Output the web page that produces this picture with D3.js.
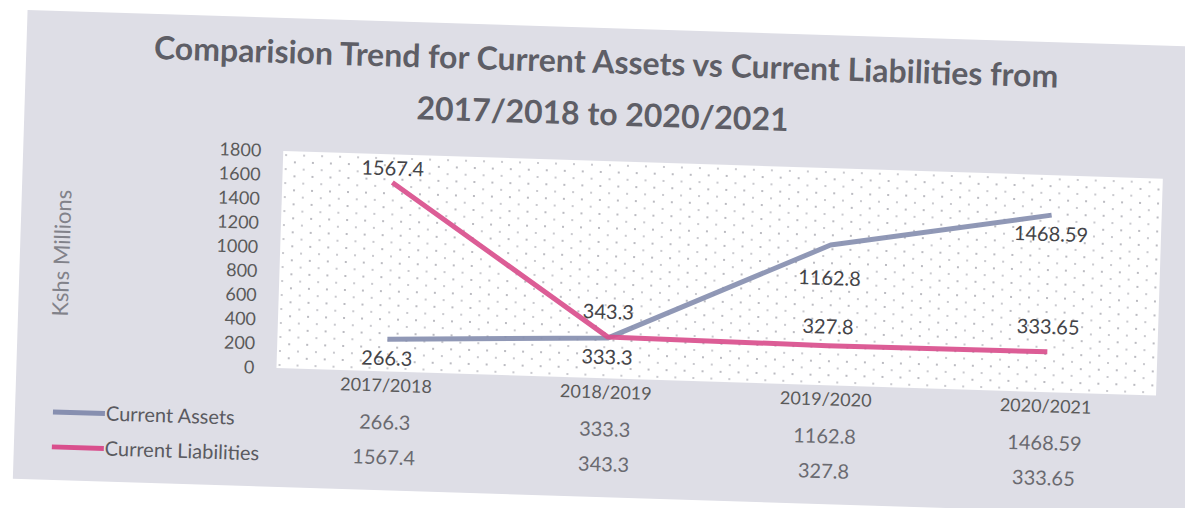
<!DOCTYPE html>
<html>
<head>
<meta charset="utf-8">
<script src="https://cdn.jsdelivr.net/npm/d3@7"></script>
<style>
  html, body { margin: 0; padding: 0; background: #ffffff; }
  svg { display: block; }
</style>
</head>
<body>
<svg id="chart" width="1185" height="508"></svg>
<script>
// ---- data ----
const categories = ["2017/2018", "2018/2019", "2019/2020", "2020/2021"];
const currentAssets = [266.3, 333.3, 1162.8, 1468.59];
const currentLiabilities = [1567.4, 343.3, 327.8, 333.65];
const seriesNames = ["Current Assets", "Current Liabilities"];
const yTicks = [0, 200, 400, 600, 800, 1000, 1200, 1400, 1600, 1800];
const titleLines = [
  "Comparision Trend for Current Assets vs Current Liabilities from",
  "2017/2018 to 2020/2021"
];
const yAxisTitle = "Kshs Millions";

// ---- layout ----
const FONT = "Lato, 'Open Sans', 'DejaVu Sans', sans-serif";
const colors = { assets: "#878fb0", liabilities: "#d94f8d" };
const plot = { left: 280, right: 1160 };
const rows = { category: 392, assets: 429, liabilities: 464 };
// vertical offset of each data label from its point (px)
const assetLabelOffset = [19, 19, 33, 19];
const liabilityLabelOffset = [-25, -25, -19, -25];

const svg = d3.select("#chart");

const defs = svg.append("defs");
// sparse dot fill of the plot area
const dots = defs.append("pattern")
  .attr("id", "plotDots").attr("patternUnits", "userSpaceOnUse")
  .attr("width", 18).attr("height", 14);
dots.append("rect").attr("width", 18).attr("height", 14).attr("fill", "#ffffff");
dots.append("circle").attr("cx", 4).attr("cy", 4).attr("r", 0.9).attr("fill", "#9c9ca4");
dots.append("circle").attr("cx", 13).attr("cy", 11).attr("r", 0.9).attr("fill", "#b0b0b8");

// whole chart sits on a slightly tilted sheet
const root = svg.append("g").attr("transform", "rotate(1.8, 600, 260)");

// chart area background
root.append("rect")
  .attr("x", 20).attr("y", 28)
  .attr("width", 1200).attr("height", 469)
  .attr("fill", "#dedee6");

// ---- scales ----
const x = d3.scaleBand().domain(categories).range([plot.left, plot.right]);
const cx = c => x(c) + x.bandwidth() / 2;
const y = d3.scaleLinear().domain([0, 1800]).range([378, 161]);

// plot area
root.append("rect")
  .attr("x", plot.left).attr("y", y(1800))
  .attr("width", plot.right - plot.left)
  .attr("height", y(0) - y(1800))
  .attr("fill", "url(#plotDots)");

// ---- title ----
const title = root.append("g").attr("font-family", FONT).attr("font-weight", 700)
  .attr("fill", "#5e5e66").attr("text-anchor", "middle");
const t1 = title.append("text").attr("x", 600).attr("y", 62).attr("dy", "0.35em")
  .attr("font-size", 28).text(titleLines[0]);
const fitSize = 28 * 905 / t1.node().getComputedTextLength();
t1.attr("font-size", fitSize);
title.append("text").attr("x", 598).attr("y", 114).attr("dy", "0.35em")
  .attr("font-size", fitSize).text(titleLines[1]);

// ---- y axis ----
const yAxis = root.append("g")
  .attr("transform", "translate(260,0)")
  .call(d3.axisLeft(y).tickValues(yTicks).tickSize(0).tickPadding(2).tickFormat(d3.format("d")));
yAxis.select(".domain").remove();
yAxis.selectAll("text")
  .attr("font-family", FONT).attr("font-size", 18).attr("fill", "#5a5a5a");

root.append("text")
  .attr("transform", "translate(62,270) rotate(-90)")
  .attr("text-anchor", "middle").attr("dy", "0.35em")
  .attr("font-family", FONT).attr("font-size", 22).attr("fill", "#82828a")
  .text(yAxisTitle);

// ---- lines ----
const series = [
  { name: seriesNames[0], values: currentAssets, color: colors.assets, offsets: assetLabelOffset },
  { name: seriesNames[1], values: currentLiabilities, color: colors.liabilities, offsets: liabilityLabelOffset }
];
const line = d3.line().x((d, i) => cx(categories[i])).y(d => y(d));

root.append("g").selectAll("path").data(series).join("path")
  .attr("d", s => line(s.values))
  .attr("fill", "none")
  .attr("stroke", s => s.color)
  .attr("stroke-width", 5)
  .attr("stroke-linejoin", "round")
  .attr("opacity", 0.92);

// ---- data labels ----
const labelG = root.append("g").attr("font-family", FONT).attr("font-size", 20)
  .attr("fill", "#444448").attr("text-anchor", "middle");
series.forEach(s => {
  labelG.selectAll(null).data(s.values).join("text")
    .attr("x", (d, i) => cx(categories[i]))
    .attr("y", (d, i) => Math.max(y(d) + s.offsets[i], y(1800) + 14))
    .attr("dy", "0.35em")
    .text(d => String(d));
});

// ---- data table under the plot ----
const catAxis = root.append("g")
  .attr("transform", `translate(0,${rows.category})`)
  .call(d3.axisBottom(x).tickSize(0).tickPadding(0));
catAxis.select(".domain").remove();
catAxis.selectAll("text")
  .attr("y", 0).attr("dy", "0.35em")
  .attr("font-family", FONT).attr("font-size", 18).attr("fill", "#5a5a5a");

const table = root.append("g").attr("font-family", FONT).attr("font-size", 20)
  .attr("fill", "#6a6a70");
[{ s: series[0], row: rows.assets }, { s: series[1], row: rows.liabilities }].forEach(({ s, row }) => {
  table.selectAll(null).data(s.values).join("text")
    .attr("x", (d, i) => cx(categories[i])).attr("y", row)
    .attr("dy", "0.35em").attr("text-anchor", "middle")
    .text(d => String(d));
  // legend key
  table.append("line")
    .attr("x1", 58).attr("x2", 110).attr("y1", row).attr("y2", row)
    .attr("stroke", s.color).attr("stroke-width", 5);
  table.append("text")
    .attr("x", 111).attr("y", row).attr("dy", "0.35em")
    .attr("fill", "#5a5a60")
    .text(s.name);
});
</script>
</body>
</html>
